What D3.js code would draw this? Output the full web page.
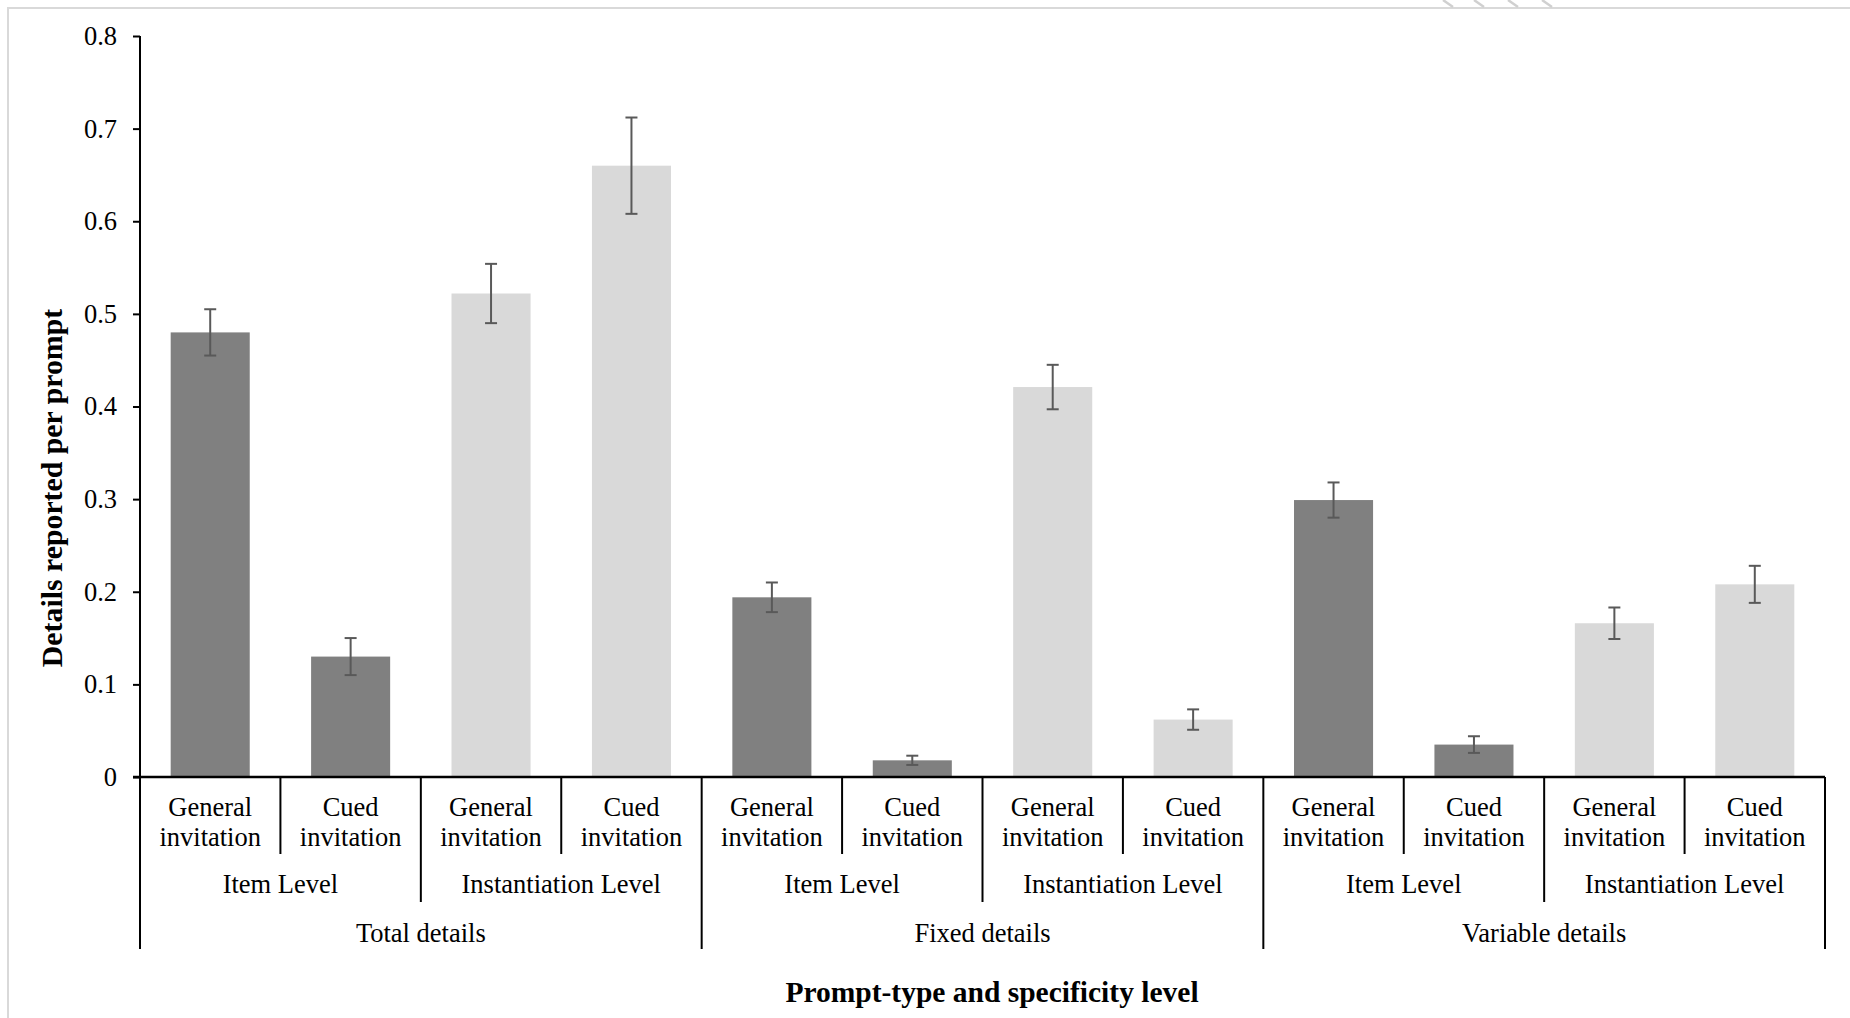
<!DOCTYPE html>
<html>
<head>
<meta charset="utf-8">
<script src="https://cdn.jsdelivr.net/npm/d3@7"></script>
<style>
    body { margin: 0; background: #fff; }
    text { font-family: "Liberation Serif", "Times New Roman", serif; fill: #000; }
</style>
</head>
<body>
<script>
// Data
const detailTypes = ["Total details", "Fixed details", "Variable details"];
const levels = ["Item Level", "Instantiation Level"];
const prompts = ["General invitation", "Cued invitation"];
const means = [0.48, 0.13, 0.522, 0.66, 0.194, 0.018, 0.421, 0.062, 0.299, 0.035, 0.166, 0.208];
const errors = [0.025, 0.02, 0.032, 0.052, 0.016, 0.005, 0.024, 0.011, 0.019, 0.009, 0.017, 0.02];
const yTicks = [0, 0.1, 0.2, 0.3, 0.4, 0.5, 0.6, 0.7, 0.8];

const width = 1850;
const height = 1018;
const plotLeft = 140, plotRight = 1825, plotTop = 36, plotBase = 777;
const serif = "'Liberation Serif', 'Times New Roman', serif";

// one row per bar
const bars = means.map((m, i) => ({
    id: i,
    detail: detailTypes[Math.floor(i / 4)],
    level: levels[Math.floor(i / 2) % 2],
    prompt: prompts[i % 2],
    value: m,
    err: errors[i]
}));

const svg = d3.select("body").append("svg")
    .attr("width", width)
    .attr("height", height);

// light frame round the chart
svg.append("path")
    .attr("d", `M8,${height} V8 H${width}`)
    .attr("fill", "none")
    .attr("stroke", "#d9d9d9")
    .attr("stroke-width", 2);
svg.append("g").selectAll("line")
    .data([1443, 1474, 1508, 1542])
    .join("line")
    .attr("x1", d => d).attr("y1", 0)
    .attr("x2", d => d + 10).attr("y2", 7)
    .attr("stroke", "#d0d0d0")
    .attr("stroke-width", 2.5);

const x = d3.scaleBand()
    .domain(bars.map(d => d.id))
    .range([plotLeft, plotRight])
    .paddingInner(0.437)
    .paddingOuter(0.2185);

const y = d3.scaleLinear()
    .domain([0, 0.8])
    .range([plotBase, plotTop]);

const color = d3.scaleOrdinal()
    .domain(levels)
    .range(["#808080", "#d9d9d9"]);

// Bars
svg.append("g").selectAll("rect")
    .data(bars)
    .join("rect")
    .attr("x", d => x(d.id))
    .attr("y", d => y(d.value))
    .attr("width", x.bandwidth())
    .attr("height", d => y(0) - y(d.value))
    .attr("fill", d => color(d.level));

// Error bars
const eb = svg.append("g")
    .attr("stroke", "#595959")
    .attr("stroke-width", 2);
const cx = d => x(d.id) + x.bandwidth() / 2;
eb.selectAll(".stem")
    .data(bars)
    .join("line")
    .attr("x1", cx).attr("x2", cx)
    .attr("y1", d => y(d.value + d.err))
    .attr("y2", d => y(d.value - d.err));
eb.selectAll(".capTop")
    .data(bars)
    .join("line")
    .attr("x1", d => cx(d) - 6).attr("x2", d => cx(d) + 6)
    .attr("y1", d => y(d.value + d.err))
    .attr("y2", d => y(d.value + d.err));
eb.selectAll(".capBot")
    .data(bars)
    .join("line")
    .attr("x1", d => cx(d) - 6).attr("x2", d => cx(d) + 6)
    .attr("y1", d => y(d.value - d.err))
    .attr("y2", d => y(d.value - d.err));

// Y axis
const yAxis = svg.append("g")
    .attr("transform", `translate(${plotLeft},0)`)
    .call(d3.axisLeft(y)
        .tickValues(yTicks)
        .tickFormat(d => d === 0 ? "0" : d3.format(".1f")(d))
        .tickSize(7)
        .tickSizeOuter(0)
        .tickPadding(16));
yAxis.attr("font-family", null).attr("font-size", null);
yAxis.select(".domain").remove();
yAxis.selectAll(".tick line").attr("stroke", "#000").attr("stroke-width", 2);
yAxis.selectAll(".tick text")
    .style("font-family", serif)
    .style("font-size", "26.5px")
    .attr("fill", "#000");

// Axis lines
const axisStep = x.step();
const edge = i => plotLeft + i * axisStep;
svg.append("line")
    .attr("x1", plotLeft).attr("x2", plotLeft)
    .attr("y1", plotTop).attr("y2", 949)
    .attr("stroke", "#000").attr("stroke-width", 2);
svg.append("line")
    .attr("x1", plotLeft - 7).attr("x2", plotRight)
    .attr("y1", plotBase).attr("y2", plotBase)
    .attr("stroke", "#000").attr("stroke-width", 2.5);

// Category separators
const seps = d3.range(1, 13);
svg.append("g").selectAll("line")
    .data(seps)
    .join("line")
    .attr("x1", edge).attr("x2", edge)
    .attr("y1", plotBase)
    .attr("y2", i => i % 4 === 0 ? 949 : (i % 2 === 0 ? 902 : 854))
    .attr("stroke", "#000")
    .attr("stroke-width", 2);

// Category labels
const lab = svg.append("g")
    .style("font-size", "26.5px")
    .attr("text-anchor", "middle");
bars.forEach(d => {
    const words = d.prompt.split(" ");
    const t = lab.append("text").attr("x", cx(d));
    t.append("tspan").attr("x", cx(d)).attr("y", 816).text(words[0]);
    t.append("tspan").attr("x", cx(d)).attr("y", 846).text(words[1]);
});
d3.range(6).forEach(k => {
    lab.append("text")
        .attr("x", edge(k * 2 + 1))
        .attr("y", 893)
        .text(levels[k % 2]);
});
detailTypes.forEach((name, k) => {
    lab.append("text")
        .attr("x", edge(k * 4 + 2))
        .attr("y", 942)
        .text(name);
});

// Axis titles
svg.append("text")
    .attr("x", 992)
    .attr("y", 1002)
    .attr("text-anchor", "middle")
    .style("font-size", "29.5px")
    .attr("font-weight", "bold")
    .text("Prompt-type and specificity level");

svg.append("text")
    .attr("transform", "translate(62,488) rotate(-90)")
    .attr("text-anchor", "middle")
    .style("font-size", "29.8px")
    .attr("font-weight", "bold")
    .text("Details reported per prompt");
</script>
</body>
</html>
